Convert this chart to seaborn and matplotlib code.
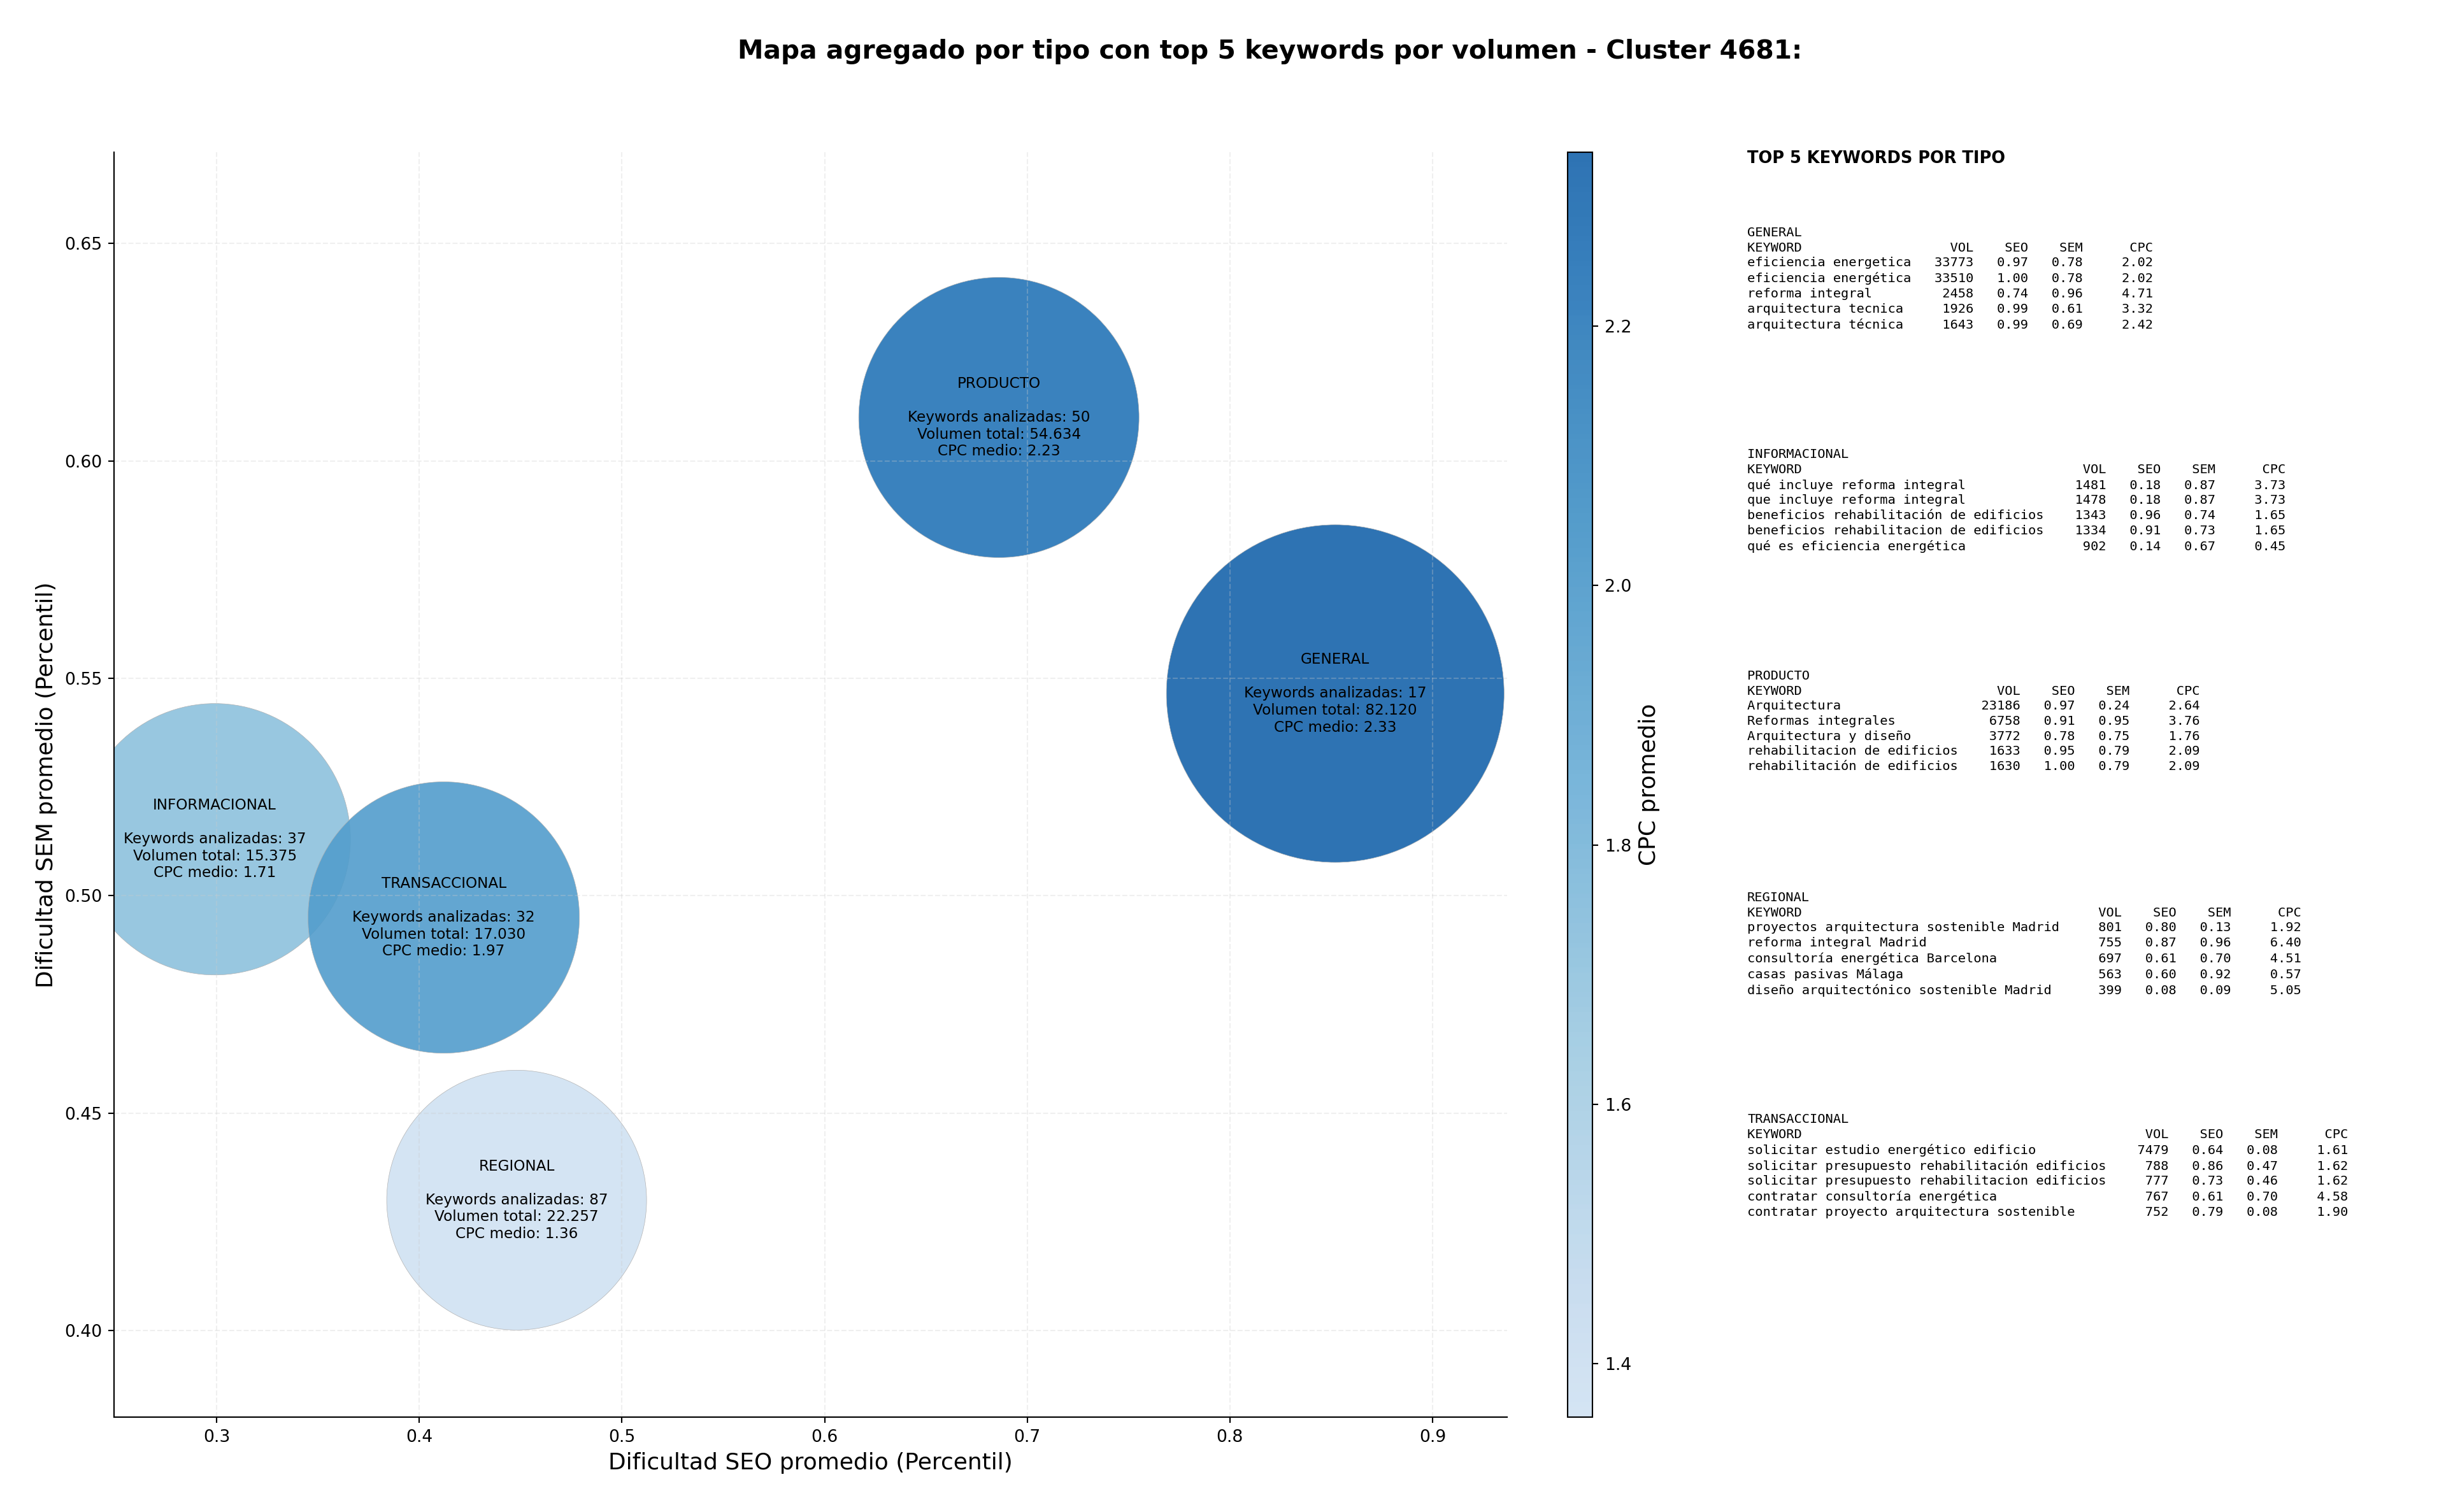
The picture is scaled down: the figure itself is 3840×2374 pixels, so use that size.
import numpy as np
import pandas as pd
import matplotlib
matplotlib.use("Agg")
import matplotlib.pyplot as plt
import matplotlib.cm as cm
from matplotlib.colors import ListedColormap, Normalize
import seaborn as sns

# ================= DATOS =================
TIPOS = ["GENERAL", "INFORMACIONAL", "PRODUCTO", "REGIONAL", "TRANSACCIONAL"]
SEO_MEDIO = [0.852, 0.299, 0.686, 0.448, 0.412]
SEM_MEDIO = [0.5465, 0.513, 0.610, 0.430, 0.495]
N_KEYWORDS = [17, 37, 50, 87, 32]
VOLUMEN_TOTAL = [82120, 15375, 54634, 22257, 17030]
CPC_MEDIO = [2.334, 1.71, 2.23, 1.359, 1.97]

BURBUJA_PT = [198.8, 159.8, 165.0, 153.0, 159.8]

# top 5 keywords por tipo: (keyword, volumen, seo, sem, cpc)
TOP_GENERAL = [
    ("eficiencia energetica", 33773, 0.97, 0.78, 2.02),
    ("eficiencia energética", 33510, 1.00, 0.78, 2.02),
    ("reforma integral", 2458, 0.74, 0.96, 4.71),
    ("arquitectura tecnica", 1926, 0.99, 0.61, 3.32),
    ("arquitectura técnica", 1643, 0.99, 0.69, 2.42),
]
TOP_INFORMACIONAL = [
    ("qué incluye reforma integral", 1481, 0.18, 0.87, 3.73),
    ("que incluye reforma integral", 1478, 0.18, 0.87, 3.73),
    ("beneficios rehabilitación de edificios", 1343, 0.96, 0.74, 1.65),
    ("beneficios rehabilitacion de edificios", 1334, 0.91, 0.73, 1.65),
    ("qué es eficiencia energética", 902, 0.14, 0.67, 0.45),
]
TOP_PRODUCTO = [
    ("Arquitectura", 23186, 0.97, 0.24, 2.64),
    ("Reformas integrales", 6758, 0.91, 0.95, 3.76),
    ("Arquitectura y diseño", 3772, 0.78, 0.75, 1.76),
    ("rehabilitacion de edificios", 1633, 0.95, 0.79, 2.09),
    ("rehabilitación de edificios", 1630, 1.00, 0.79, 2.09),
]
TOP_REGIONAL = [
    ("proyectos arquitectura sostenible Madrid", 801, 0.80, 0.13, 1.92),
    ("reforma integral Madrid", 755, 0.87, 0.96, 6.40),
    ("consultoría energética Barcelona", 697, 0.61, 0.70, 4.51),
    ("casas pasivas Málaga", 563, 0.60, 0.92, 0.57),
    ("diseño arquitectónico sostenible Madrid", 399, 0.08, 0.09, 5.05),
]
TOP_TRANSACCIONAL = [
    ("solicitar estudio energético edificio", 7479, 0.64, 0.08, 1.61),
    ("solicitar presupuesto rehabilitación edificios", 788, 0.86, 0.47, 1.62),
    ("solicitar presupuesto rehabilitacion edificios", 777, 0.73, 0.46, 1.62),
    ("contratar consultoría energética", 767, 0.61, 0.70, 4.58),
    ("contratar proyecto arquitectura sostenible", 752, 0.79, 0.08, 1.90),
]
TOPS = [TOP_GENERAL, TOP_INFORMACIONAL, TOP_PRODUCTO, TOP_REGIONAL, TOP_TRANSACCIONAL]

CLUSTER_ID = 4681


def fmt_miles(v):
    return f"{v:,}".replace(",", ".")


def tabla_tipo(tipo, filas):
    w = max(len(f[0]) for f in filas)
    lineas = [tipo, f"{'KEYWORD':<{w}} {'VOL':>7} {'SEO':>6} {'SEM':>6} {'CPC':>8}"]
    for kw, vol, seo, sem, cpc in filas:
        lineas.append(f"{kw:<{w}} {vol:>7} {seo:>6.2f} {sem:>6.2f} {cpc:>8.2f}")
    return "\n".join(lineas)


# ================= PLOT =================
df = pd.DataFrame({
    "tipo": TIPOS, "seo": SEO_MEDIO, "sem": SEM_MEDIO,
    "n_kw": N_KEYWORDS, "volumen": VOLUMEN_TOTAL, "cpc": CPC_MEDIO,
})

sns.set_style("ticks")
plt.rcParams["font.family"] = ["DejaVu Sans"]
plt.rcParams.update({"text.color": "black", "axes.labelcolor": "black",
                     "xtick.color": "black", "ytick.color": "black",
                     "axes.edgecolor": "black"})

# Blues recortado (0.2-0.8) con alpha 0.9
colores = plt.get_cmap("Blues")(np.linspace(0.2, 0.8, 256))
colores[:, 3] = 0.9
cmap = ListedColormap(colores)
norm = Normalize(vmin=min(CPC_MEDIO), vmax=max(CPC_MEDIO))

W, H, DPI = 3840, 2374, 192
fig = plt.figure(figsize=(W / DPI, H / DPI), dpi=DPI)
ax_bottom = 1 - 2225 / H
ax_height = (2225 - 239) / H
ax = fig.add_axes([179 / W, ax_bottom, (2366 - 179) / W, ax_height])
cax = fig.add_axes([2461 / W, ax_bottom, 39 / W, ax_height])

sizes = {t: d ** 2 for t, d in zip(TIPOS, BURBUJA_PT)}
sns.scatterplot(data=df, x="seo", y="sem", hue="cpc", palette=cmap, hue_norm=norm,
                size="tipo", sizes=sizes, edgecolor="#b0b0b0", linewidth=0.25,
                legend=False, ax=ax, zorder=1)

for _, r in df.iterrows():
    etiqueta = (f"{r['tipo']}\n\nKeywords analizadas: {r['n_kw']}\n"
                f"Volumen total: {fmt_miles(r['volumen'])}\nCPC medio: {r['cpc']:.2f}")
    ax.text(r["seo"], r["sem"], etiqueta, ha="center", va="center",
            multialignment="center", fontsize=8.7, zorder=3)

ax.set_xlim(0.2493, 0.9368)
ax.set_ylim(0.3801, 0.6710)
ax.set_xticks([0.3, 0.4, 0.5, 0.6, 0.7, 0.8, 0.9])
ax.set_yticks([0.40, 0.45, 0.50, 0.55, 0.60, 0.65])
ax.tick_params(labelsize=10)
ax.set_xlabel("Dificultad SEO promedio (Percentil)", fontsize=13.5)
ax.set_ylabel("Dificultad SEM promedio (Percentil)", fontsize=13.5)
ax.grid(True, linestyle="--", alpha=0.3)
ax.set_axisbelow("line")
sns.despine(ax=ax)

sm = cm.ScalarMappable(cmap=cmap, norm=norm)
cbar = fig.colorbar(sm, cax=cax)
cbar.set_label("CPC promedio", fontsize=13.5)
cbar.ax.tick_params(labelsize=10)

fig.suptitle(f"Mapa agregado por tipo con top 5 keywords por volumen - Cluster {CLUSTER_ID}:",
             fontsize=15.3, fontweight="bold", x=1994 / W, y=1 - 81 / H, va="center")

# panel de texto con las tablas
x_txt = 2743 / W
fig.text(x_txt, 1 - 236 / H, "TOP 5 KEYWORDS POR TIPO", fontsize=9.6,
         fontweight="bold", va="top", ha="left")
for i, (tipo, filas) in enumerate(zip(TIPOS, TOPS)):
    fig.text(x_txt, 1 - (356 + i * 348) / H, tabla_tipo(tipo, filas),
             family="DejaVu Sans Mono", fontsize=7.65, linespacing=1.31,
             va="top", ha="left")

fig.savefig("out.png", dpi=DPI)
